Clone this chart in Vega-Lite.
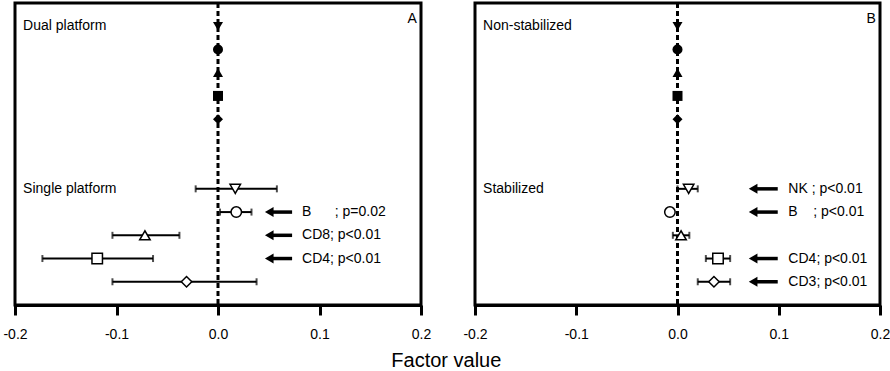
{
  "$schema": "https://vega.github.io/schema/vega-lite/v6.json",
  "padding": {"left": 1, "top": 0, "right": 0, "bottom": 0},
  "config": {
    "font": "Liberation Sans",
    "view": {"stroke": "black", "strokeWidth": 3},
    "axis": {"grid": false, "domainColor": "black", "domainWidth": 3, "tickColor": "black", "tickWidth": 3, "tickSize": 10, "labelFontSize": 14, "labelColor": "black", "labelPadding": 12, "labelFlush": false, "labelOverlap": false, "labelFont": "Liberation Sans"},
    "text": {"font": "Liberation Sans", "fontSize": 14, "color": "black"}
  },
  "title": {"text": "Factor value", "orient": "bottom", "anchor": "middle", "fontSize": 20, "fontWeight": "normal", "color": "black", "offset": 8, "font": "Liberation Sans"},
  "datasets": {
    "rows": [
      {"panel": "A", "kind": "ref", "cell": "NK", "row": 1, "est": 0},
      {"panel": "A", "kind": "ref", "cell": "B", "row": 2, "est": 0},
      {"panel": "A", "kind": "ref", "cell": "CD8", "row": 3, "est": 0},
      {"panel": "A", "kind": "ref", "cell": "CD4", "row": 4, "est": 0},
      {"panel": "A", "kind": "ref", "cell": "CD3", "row": 5, "est": 0},
      {"panel": "A", "kind": "test", "cell": "NK", "row": 8, "est": 0.017, "lo": -0.022, "hi": 0.058},
      {"panel": "A", "kind": "test", "cell": "B", "row": 9, "est": 0.018, "lo": 0.002, "hi": 0.033, "label": "B\u00a0\u00a0\u00a0\u00a0\u00a0\u00a0; p=0.02"},
      {"panel": "A", "kind": "test", "cell": "CD8", "row": 10, "est": -0.072, "lo": -0.104, "hi": -0.038, "label": "CD8; p<0.01"},
      {"panel": "A", "kind": "test", "cell": "CD4", "row": 11, "est": -0.119, "lo": -0.173, "hi": -0.064, "label": "CD4; p<0.01"},
      {"panel": "A", "kind": "test", "cell": "CD3", "row": 12, "est": -0.031, "lo": -0.104, "hi": 0.038},
      {"panel": "B", "kind": "ref", "cell": "NK", "row": 1, "est": 0},
      {"panel": "B", "kind": "ref", "cell": "B", "row": 2, "est": 0},
      {"panel": "B", "kind": "ref", "cell": "CD8", "row": 3, "est": 0},
      {"panel": "B", "kind": "ref", "cell": "CD4", "row": 4, "est": 0},
      {"panel": "B", "kind": "ref", "cell": "CD3", "row": 5, "est": 0},
      {"panel": "B", "kind": "test", "cell": "NK", "row": 8, "est": 0.011, "lo": 0.0, "hi": 0.02, "label": "NK ; p<0.01"},
      {"panel": "B", "kind": "test", "cell": "B", "row": 9, "est": -0.0075, "label": "B\u00a0\u00a0\u00a0\u00a0; p<0.01"},
      {"panel": "B", "kind": "test", "cell": "CD8", "row": 10, "est": 0.0035, "lo": -0.0046, "hi": 0.0117},
      {"panel": "B", "kind": "test", "cell": "CD4", "row": 11, "est": 0.040, "lo": 0.028, "hi": 0.052, "label": "CD4; p<0.01"},
      {"panel": "B", "kind": "test", "cell": "CD3", "row": 12, "est": 0.036, "lo": 0.020, "hi": 0.052, "label": "CD3; p<0.01"}
    ],
    "groups": [
      {"panel": "A", "group": "Dual platform", "row": 1},
      {"panel": "A", "group": "Single platform", "row": 8},
      {"panel": "B", "group": "Non-stabilized", "row": 1},
      {"panel": "B", "group": "Stabilized", "row": 8}
    ],
    "letters": [
      {"panel": "A"},
      {"panel": "B"}
    ]
  },
  "spacing": 54,
  "bounds": "flush",
  "hconcat": [
    {
      "width": 406,
      "height": 302,
      "layer": [
        {
          "data": {"name": "letters"},
          "transform": [{"filter": "datum.panel === 'A'"}],
          "mark": {"type": "rule", "strokeDash": [5, 3], "strokeWidth": 3, "color": "black"},
          "encoding": {
            "x": {"datum": 0, "type": "quantitative", "scale": {"domain": [-0.2, 0.2], "nice": false, "zero": false},
              "axis": {"values": [-0.2, -0.1, 0, 0.1, 0.2], "format": ".1f", "labelExpr": "replace(datum.label, '\u2212', '-')", "title": null}}
          }
        },
        {
          "data": {"name": "rows"},
          "transform": [{"filter": "datum.panel === 'A' && isValid(datum.lo)"}],
          "mark": {"type": "rule", "strokeWidth": 2, "color": "black"},
          "encoding": {
            "x": {"field": "lo", "type": "quantitative"},
            "x2": {"field": "hi"},
            "y": {"field": "row", "type": "quantitative", "scale": {"domain": [0, 13], "reverse": true, "nice": false, "zero": false}, "axis": null}
          }
        },
        {
          "data": {"name": "rows"},
          "transform": [{"filter": "datum.panel === 'A' && isValid(datum.lo)"}],
          "mark": {"type": "tick", "orient": "vertical", "size": 7, "thickness": 2, "color": "black"},
          "encoding": {
            "x": {"field": "lo", "type": "quantitative"},
            "y": {"field": "row", "type": "quantitative"}
          }
        },
        {
          "data": {"name": "rows"},
          "transform": [{"filter": "datum.panel === 'A' && isValid(datum.lo)"}],
          "mark": {"type": "tick", "orient": "vertical", "size": 7, "thickness": 2, "color": "black"},
          "encoding": {
            "x": {"field": "hi", "type": "quantitative"},
            "y": {"field": "row", "type": "quantitative"}
          }
        },
        {
          "data": {"name": "rows"},
          "transform": [{"filter": "datum.panel === 'A' && datum.kind === 'ref'"}],
          "mark": {"type": "point", "filled": true, "color": "black", "size": 100, "opacity": 1},
          "encoding": {
            "x": {"field": "est", "type": "quantitative"},
            "y": {"field": "row", "type": "quantitative"},
            "shape": {"field": "cell", "type": "nominal", "scale": {"domain": ["NK", "B", "CD8", "CD4", "CD3"], "range": ["triangle-down", "circle", "triangle-up", "square", "diamond"]}, "legend": null}
          }
        },
        {
          "data": {"name": "rows"},
          "transform": [{"filter": "datum.panel === 'A' && datum.kind === 'test'"}],
          "mark": {"type": "point", "filled": true, "fill": "white", "stroke": "black", "strokeWidth": 1.5, "size": 110, "opacity": 1},
          "encoding": {
            "x": {"field": "est", "type": "quantitative"},
            "y": {"field": "row", "type": "quantitative"},
            "shape": {"field": "cell", "type": "nominal", "legend": null}
          }
        },
        {
          "data": {"name": "rows"},
          "transform": [{"filter": "datum.panel === 'A' && isValid(datum.label)"}],
          "mark": {"type": "rule", "strokeWidth": 3.5, "color": "black"},
          "encoding": {
            "x": {"datum": 0.0505},
            "x2": {"datum": 0.073},
            "y": {"field": "row", "type": "quantitative"}
          }
        },
        {
          "data": {"name": "rows"},
          "transform": [{"filter": "datum.panel === 'A' && isValid(datum.label)"}],
          "mark": {"type": "point", "shape": "triangle-left", "filled": true, "color": "black", "size": 100, "opacity": 1},
          "encoding": {
            "x": {"datum": 0.0505},
            "y": {"field": "row", "type": "quantitative"}
          }
        },
        {
          "data": {"name": "rows"},
          "transform": [{"filter": "datum.panel === 'A' && isValid(datum.label)"}],
          "mark": {"type": "text", "align": "left", "baseline": "middle", "fontSize": 14},
          "encoding": {
            "x": {"datum": 0.0828},
            "y": {"field": "row", "type": "quantitative"},
            "text": {"field": "label"}
          }
        },
        {
          "data": {"name": "groups"},
          "transform": [{"filter": "datum.panel === 'A'"}],
          "mark": {"type": "text", "align": "left", "baseline": "middle", "fontSize": 14},
          "encoding": {
            "x": {"datum": -0.192},
            "y": {"field": "row", "type": "quantitative"},
            "text": {"field": "group"}
          }
        },
        {
          "data": {"name": "letters"},
          "transform": [{"filter": "datum.panel === 'A'"}],
          "mark": {"type": "text", "align": "right", "baseline": "middle", "fontSize": 14},
          "encoding": {
            "x": {"datum": 0.196},
            "y": {"datum": 0.68},
            "text": {"field": "panel"}
          }
        }
      ]
    },
    {
      "width": 405,
      "height": 302,
      "layer": [
        {
          "data": {"name": "letters"},
          "transform": [{"filter": "datum.panel === 'B'"}],
          "mark": {"type": "rule", "strokeDash": [5, 3], "strokeWidth": 3, "color": "black"},
          "encoding": {
            "x": {"datum": 0, "type": "quantitative", "scale": {"domain": [-0.2, 0.2], "nice": false, "zero": false},
              "axis": {"values": [-0.2, -0.1, 0, 0.1, 0.2], "format": ".1f", "labelExpr": "replace(datum.label, '\u2212', '-')", "title": null}}
          }
        },
        {
          "data": {"name": "rows"},
          "transform": [{"filter": "datum.panel === 'B' && isValid(datum.lo)"}],
          "mark": {"type": "rule", "strokeWidth": 2, "color": "black"},
          "encoding": {
            "x": {"field": "lo", "type": "quantitative"},
            "x2": {"field": "hi"},
            "y": {"field": "row", "type": "quantitative", "scale": {"domain": [0, 13], "reverse": true, "nice": false, "zero": false}, "axis": null}
          }
        },
        {
          "data": {"name": "rows"},
          "transform": [{"filter": "datum.panel === 'B' && isValid(datum.lo)"}],
          "mark": {"type": "tick", "orient": "vertical", "size": 7, "thickness": 2, "color": "black"},
          "encoding": {
            "x": {"field": "lo", "type": "quantitative"},
            "y": {"field": "row", "type": "quantitative"}
          }
        },
        {
          "data": {"name": "rows"},
          "transform": [{"filter": "datum.panel === 'B' && isValid(datum.lo)"}],
          "mark": {"type": "tick", "orient": "vertical", "size": 7, "thickness": 2, "color": "black"},
          "encoding": {
            "x": {"field": "hi", "type": "quantitative"},
            "y": {"field": "row", "type": "quantitative"}
          }
        },
        {
          "data": {"name": "rows"},
          "transform": [{"filter": "datum.panel === 'B' && datum.kind === 'ref'"}],
          "mark": {"type": "point", "filled": true, "color": "black", "size": 100, "opacity": 1},
          "encoding": {
            "x": {"field": "est", "type": "quantitative"},
            "y": {"field": "row", "type": "quantitative"},
            "shape": {"field": "cell", "type": "nominal", "scale": {"domain": ["NK", "B", "CD8", "CD4", "CD3"], "range": ["triangle-down", "circle", "triangle-up", "square", "diamond"]}, "legend": null}
          }
        },
        {
          "data": {"name": "rows"},
          "transform": [{"filter": "datum.panel === 'B' && datum.kind === 'test'"}],
          "mark": {"type": "point", "filled": true, "fill": "white", "stroke": "black", "strokeWidth": 1.5, "size": 110, "opacity": 1},
          "encoding": {
            "x": {"field": "est", "type": "quantitative"},
            "y": {"field": "row", "type": "quantitative"},
            "shape": {"field": "cell", "type": "nominal", "legend": null}
          }
        },
        {
          "data": {"name": "rows"},
          "transform": [{"filter": "datum.panel === 'B' && isValid(datum.label)"}],
          "mark": {"type": "rule", "strokeWidth": 3.5, "color": "black"},
          "encoding": {
            "x": {"datum": 0.0747},
            "x2": {"datum": 0.099},
            "y": {"field": "row", "type": "quantitative"}
          }
        },
        {
          "data": {"name": "rows"},
          "transform": [{"filter": "datum.panel === 'B' && isValid(datum.label)"}],
          "mark": {"type": "point", "shape": "triangle-left", "filled": true, "color": "black", "size": 100, "opacity": 1},
          "encoding": {
            "x": {"datum": 0.0747},
            "y": {"field": "row", "type": "quantitative"}
          }
        },
        {
          "data": {"name": "rows"},
          "transform": [{"filter": "datum.panel === 'B' && isValid(datum.label)"}],
          "mark": {"type": "text", "align": "left", "baseline": "middle", "fontSize": 14},
          "encoding": {
            "x": {"datum": 0.1095},
            "y": {"field": "row", "type": "quantitative"},
            "text": {"field": "label"}
          }
        },
        {
          "data": {"name": "groups"},
          "transform": [{"filter": "datum.panel === 'B'"}],
          "mark": {"type": "text", "align": "left", "baseline": "middle", "fontSize": 14},
          "encoding": {
            "x": {"datum": -0.192},
            "y": {"field": "row", "type": "quantitative"},
            "text": {"field": "group"}
          }
        },
        {
          "data": {"name": "letters"},
          "transform": [{"filter": "datum.panel === 'B'"}],
          "mark": {"type": "text", "align": "right", "baseline": "middle", "fontSize": 14},
          "encoding": {
            "x": {"datum": 0.196},
            "y": {"datum": 0.68},
            "text": {"field": "panel"}
          }
        }
      ]
    }
  ]
}
